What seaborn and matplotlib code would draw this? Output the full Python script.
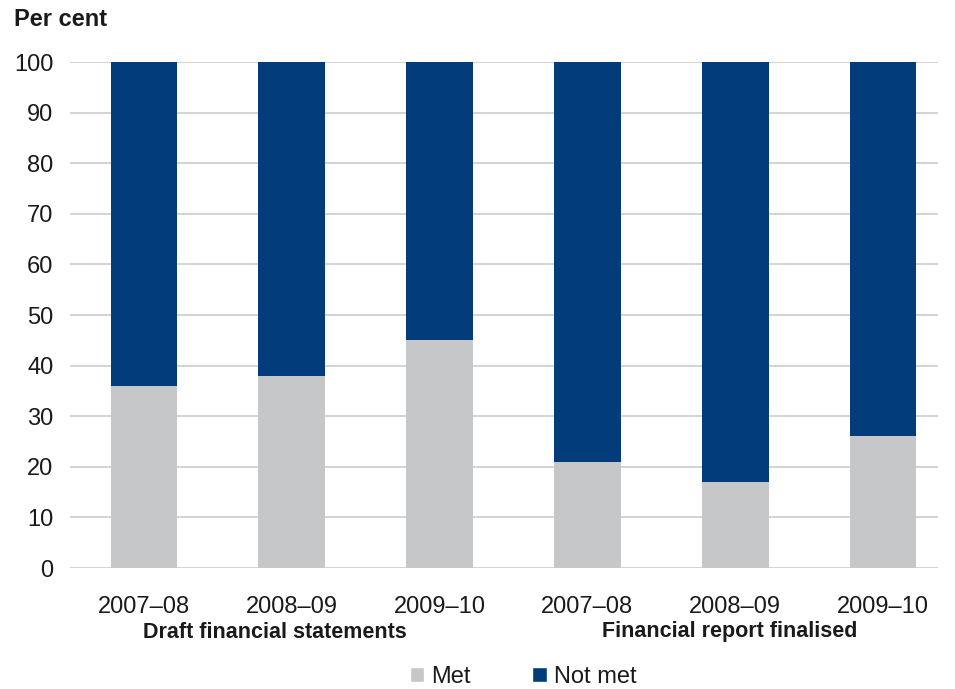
import matplotlib
matplotlib.use("Agg")
import matplotlib.pyplot as plt
import seaborn as sns
import pandas as pd
from matplotlib.patches import Patch

# Share of councils meeting the reporting deadlines
years = ["2007–08", "2008–09", "2009–10", "2007–08", "2008–09", "2009–10"]
groups = ["Draft financial statements", "Financial report finalised"]
met = [36, 38, 45, 21, 17, 26]
not_met = [64, 62, 55, 79, 83, 74]

MET_COLOR = "#C6C7C9"
NOT_MET_COLOR = "#023C7A"
TEXT = "#1a1a1a"

sns.set_theme(style="white")
plt.rcParams["font.family"] = ["Liberation Sans", "DejaVu Sans"]

df = pd.DataFrame({
    "slot": [str(i) for i in range(len(years))],
    "met": met,
    "total": [m + n for m, n in zip(met, not_met)],
})

fig = plt.figure(figsize=(9.55, 6.89), dpi=100)
ax = fig.add_axes([0.0733, 0.1756, 0.9087, 0.7344])

sns.barplot(data=df, x="slot", y="total", color=NOT_MET_COLOR, width=0.45,
            saturation=1, linewidth=0, ax=ax, zorder=3)
sns.barplot(data=df, x="slot", y="met", color=MET_COLOR, width=0.45,
            saturation=1, linewidth=0, ax=ax, zorder=3)

ax.set_ylim(0, 100)
ax.set_xlim(-0.5, 5.37)
ax.set_yticks(range(0, 101, 10))
ax.set_xticks(range(len(years)))
ax.set_xticklabels(years)
ax.tick_params(axis="both", length=0, labelsize=17, colors=TEXT)
ax.tick_params(axis="y", pad=12)
ax.tick_params(axis="x", pad=20)
ax.set_xlabel("")
ax.set_ylabel("")
ax.yaxis.grid(True, color="#D0D0D0", linewidth=1.3, zorder=0)
ax.set_axisbelow(True)
for s in ax.spines.values():
    s.set_visible(False)

fig.text(0.015, 0.972, "Per cent", fontsize=17, fontweight="bold",
         color=TEXT, ha="left", va="center")

group_centers = [275 / 955, 730 / 955]
for name, xf in zip(groups, group_centers):
    fig.text(xf, 1 - 632 / 689, name, fontsize=15.5, fontweight="bold",
             color=TEXT, ha="center", va="center")

handles = [Patch(facecolor=MET_COLOR, label="Met"),
           Patch(facecolor=NOT_MET_COLOR, label="Not met")]
fig.legend(handles=handles, loc="center", bbox_to_anchor=(0.548, 1 - 677 / 689),
           ncol=2, frameon=False, fontsize=17, handlelength=0.6,
           handleheight=0.6, handletextpad=0.3, columnspacing=2.6,
           labelcolor=TEXT)

fig.savefig("out.png", dpi=100)
